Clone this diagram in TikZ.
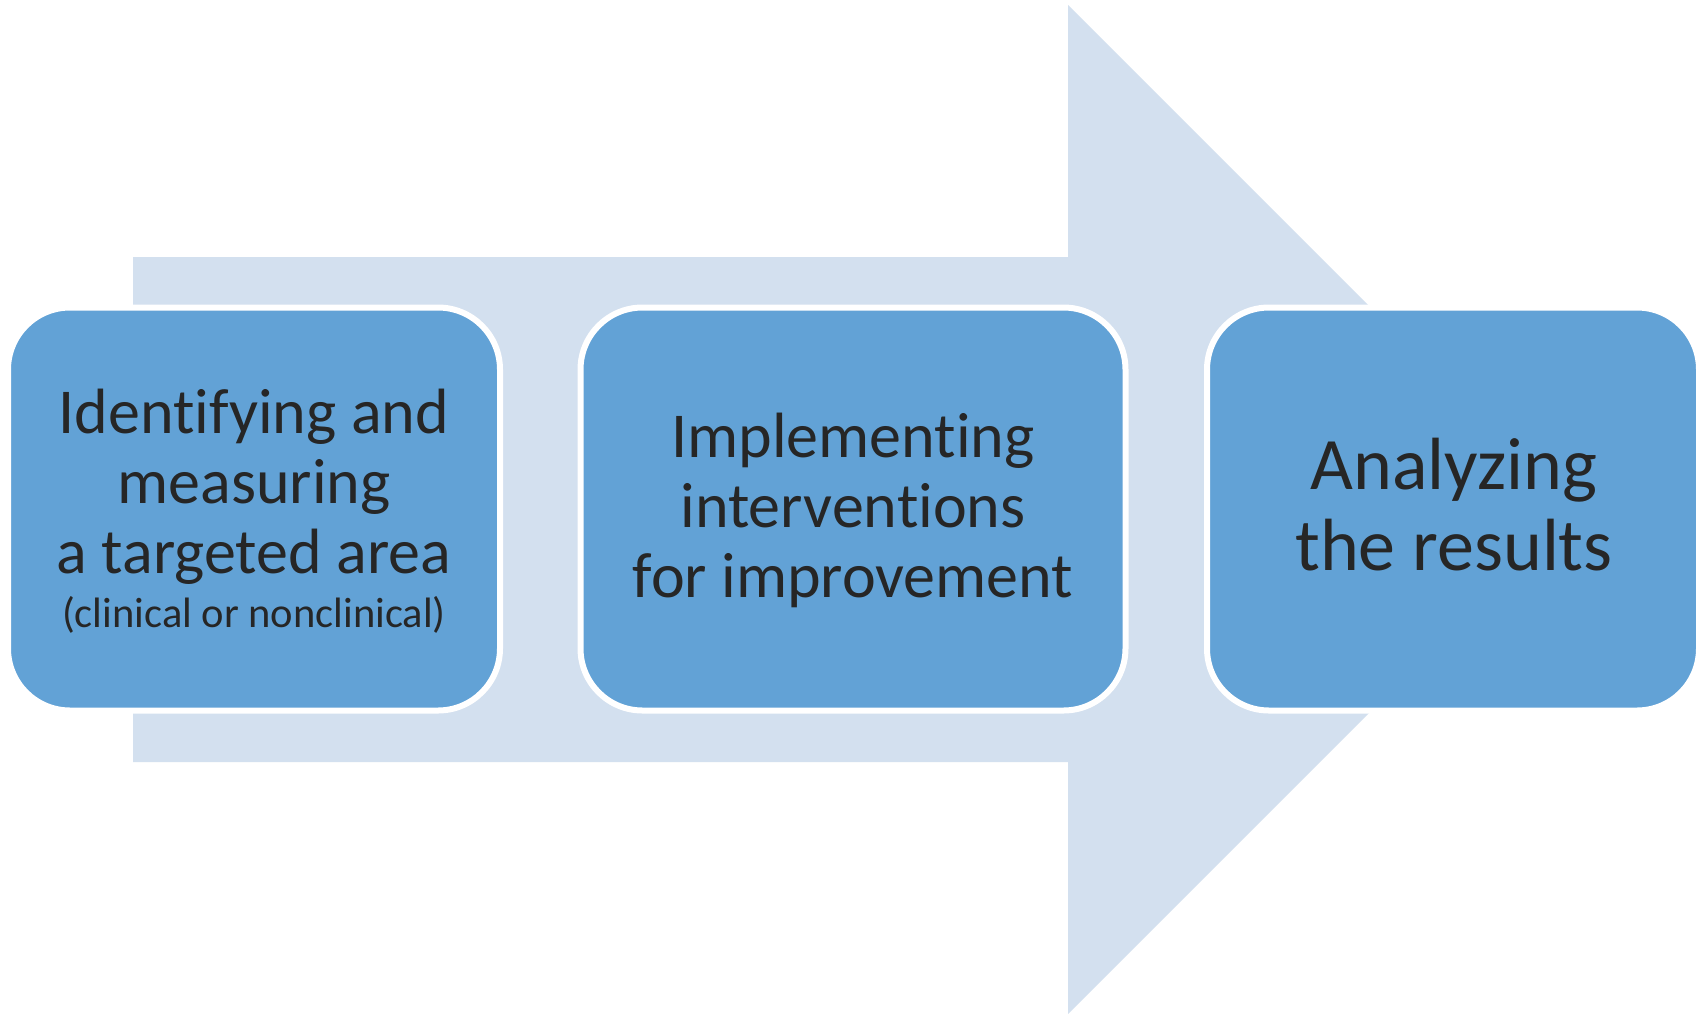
\documentclass[tikz,border=0pt]{standalone}
\usepackage{fontspec}
\setmainfont{Carlito}[Ligatures={NoCommon,NoContextual},RawFeature={-liga;-clig;-dlig}]
\definecolor{arrowbg}{RGB}{211,224,239}
\definecolor{boxfill}{RGB}{98,162,214}
\definecolor{txt}{RGB}{38,38,38}
\begin{document}
\begin{tikzpicture}[x=1pt,y=-1pt,
  stepbox/.style={draw=white, line width=6pt, fill=boxfill, rounded corners=62pt, inner sep=0pt},
  bigtxt/.style={text=txt, font=\fontsize{64}{70}\selectfont, anchor=base, inner sep=0pt},
  hugetxt/.style={text=txt, font=\fontsize{74}{81}\selectfont, anchor=base, inner sep=0pt},
  smalltxt/.style={text=txt, font=\fontsize{42.5}{46}\selectfont, anchor=base, inner sep=0pt}]
\useasboundingbox (0,0) rectangle (1701,1013);
\fill[white] (0,0) rectangle (1701,1013);
% big background arrow
\fill[arrowbg] (133,257) -- (1068,257) -- (1068,5) -- (1572.5,509.5) -- (1068,1014) -- (1068,762) -- (133,762) -- cycle;
% boxes
\node[stepbox, minimum width=492pt, minimum height=403pt] (b1) at (254,509) {};
\node[stepbox, minimum width=545pt, minimum height=403pt] (b2) at (853,509) {};
\node[stepbox, minimum width=492pt, minimum height=403pt] (b3) at (1453,509) {};
% texts
\node[bigtxt] (t1a) at (254,433) {Identifying and};
\node[bigtxt] (t1b) at (254,503) {measuring};
\node[bigtxt] (t1c) at (254,573) {a targeted area};
\node[smalltxt] (t1d) at (254,627) {(clinical or nonclinical)};
\node[bigtxt] (t2a) at (853,457) {Implementing};
\node[bigtxt] (t2b) at (853,527) {interventions};
\node[bigtxt] (t2c) at (853,597) {for improvement};
\node[hugetxt] (t3a) at (1454,489) {Analyzing};
\node[hugetxt] (t3b) at (1454,570) {the results};
\end{tikzpicture}
\end{document}
